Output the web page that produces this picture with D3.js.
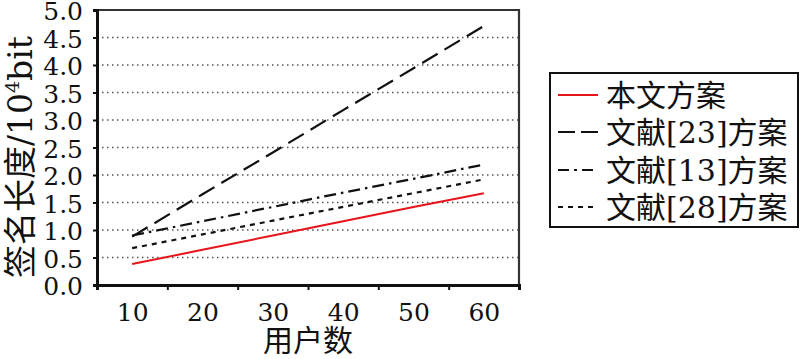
<!DOCTYPE html>
<html>
<head>
<meta charset="utf-8">
<script src="https://cdn.jsdelivr.net/npm/d3@7"></script>
<style>
  html, body { margin: 0; padding: 0; background: #fff; }
  svg { display: block; }
  text { font-family: "DejaVu Serif", "Noto Sans CJK SC", serif; fill: #111; }
</style>
</head>
<body>
<svg id="chart" width="800" height="359"></svg>
<script>
const users = [10, 20, 30, 40, 50, 60];
const ours  = [0.38, 0.64, 0.90, 1.16, 1.42, 1.67];
const ref23 = [0.88, 1.65, 2.41, 3.18, 3.94, 4.71];
const ref13 = [0.90, 1.16, 1.42, 1.68, 1.93, 2.19];
const ref28 = [0.67, 0.92, 1.17, 1.42, 1.67, 1.92];
const seriesNames = ["本文方案", "文献[23]方案", "文献[13]方案", "文献[28]方案"];
const yTicks = [0, 0.5, 1, 1.5, 2, 2.5, 3, 3.5, 4, 4.5, 5];
const xBoundaries = [5, 15, 25, 35, 45, 55, 65];
const xTitle = "用户数";

const styles = [
  { color: "#e8141c", dash: null, width: 2 },
  { color: "#111", dash: "18,8", width: 2.2 },
  { color: "#111", dash: "12,5,2.5,5", width: 2.2 },
  { color: "#111", dash: "5,5", width: 2.2 }
];
const seriesValues = [ours, ref23, ref13, ref28];

const svg = d3.select("#chart");
const L = 97, R = 519, T = 10, B = 285;
const x = d3.scaleLinear().domain([5, 65]).range([L, R]);
const y = d3.scaleLinear().domain([0, 5]).range([B, T]);

// grid
svg.append("g").selectAll("line")
  .data(yTicks.filter(v => v > 0 && v < 5))
  .join("line")
  .attr("x1", L).attr("x2", R)
  .attr("y1", d => y(d)).attr("y2", d => y(d))
  .attr("stroke", "#555").attr("stroke-width", 1.3)
  .attr("stroke-dasharray", "1.5,3.5");

// frame top/right
svg.append("path")
  .attr("d", `M${L},${T}H${R}V${B}`)
  .attr("fill", "none").attr("stroke", "#333").attr("stroke-width", 2.2);

// y axis
const yAxis = svg.append("g").attr("transform", `translate(${L},0)`)
  .call(d3.axisLeft(y).tickValues(yTicks).tickSize(4).tickPadding(10).tickFormat(d3.format(".1f")));
yAxis.select(".domain").attr("stroke", "#111").attr("stroke-width", 3);
yAxis.selectAll(".tick line").attr("stroke", "#111").attr("stroke-width", 2);
yAxis.selectAll("text").attr("dy", "0.38em")
  .style("font-size", "25px").style("font-family", "DejaVu Serif").attr("fill", "#111");

// x axis tick marks at boundaries
const xAxis = svg.append("g").attr("transform", `translate(0,${B})`)
  .call(d3.axisBottom(x).tickValues(xBoundaries).tickSize(5).tickFormat(""));
xAxis.select(".domain").attr("stroke", "#111").attr("stroke-width", 3);
xAxis.selectAll(".tick line").attr("stroke", "#111").attr("stroke-width", 2);

// x labels at category centers
const xLab = svg.append("g").attr("transform", `translate(0,${B})`)
  .call(d3.axisBottom(x).tickValues(users).tickSize(0).tickFormat(d3.format("d")));
xLab.select(".domain").remove();
xLab.selectAll("text").attr("y", 36).attr("dy", 0)
  .style("font-size", "25px").style("font-family", "DejaVu Serif").attr("fill", "#111");

// lines
const line = d3.line().x((d, i) => x(users[i])).y(d => y(d));
seriesValues.forEach((vals, k) => {
  svg.append("path").datum(vals)
    .attr("d", line)
    .attr("fill", "none")
    .attr("stroke", styles[k].color)
    .attr("stroke-width", styles[k].width)
    .attr("stroke-dasharray", styles[k].dash);
});

// axis titles
svg.append("text").attr("x", (L + R) / 2).attr("y", 351)
  .attr("text-anchor", "middle").style("font-size", "30px").text(xTitle);

const yt = svg.append("text")
  .attr("transform", "translate(32,157) rotate(-90)")
  .attr("text-anchor", "middle").style("font-size", "33px");
yt.append("tspan").text("签名长度/10");
yt.append("tspan").attr("dy", -13).style("font-size", "19px").text("4");
yt.append("tspan").attr("dy", 13).text("bit");

// legend
const lg = svg.append("g");
lg.append("rect").attr("x", 550).attr("y", 73).attr("width", 248).attr("height", 154)
  .attr("fill", "#fff").attr("stroke", "#111").attr("stroke-width", 2);
const rowY = [95, 132, 170, 207];
seriesNames.forEach((name, k) => {
  lg.append("line").attr("x1", 558).attr("x2", 598)
    .attr("y1", rowY[k]).attr("y2", rowY[k])
    .attr("stroke", styles[k].color).attr("stroke-width", styles[k].width)
    .attr("stroke-dasharray", k === 1 ? "17,6" : k === 2 ? "11,5,3,5" : styles[k].dash);
  lg.append("text").attr("x", 606).attr("y", rowY[k] + 11)
    .style("font-size", "30px").text(name);
});
</script>
</body>
</html>
